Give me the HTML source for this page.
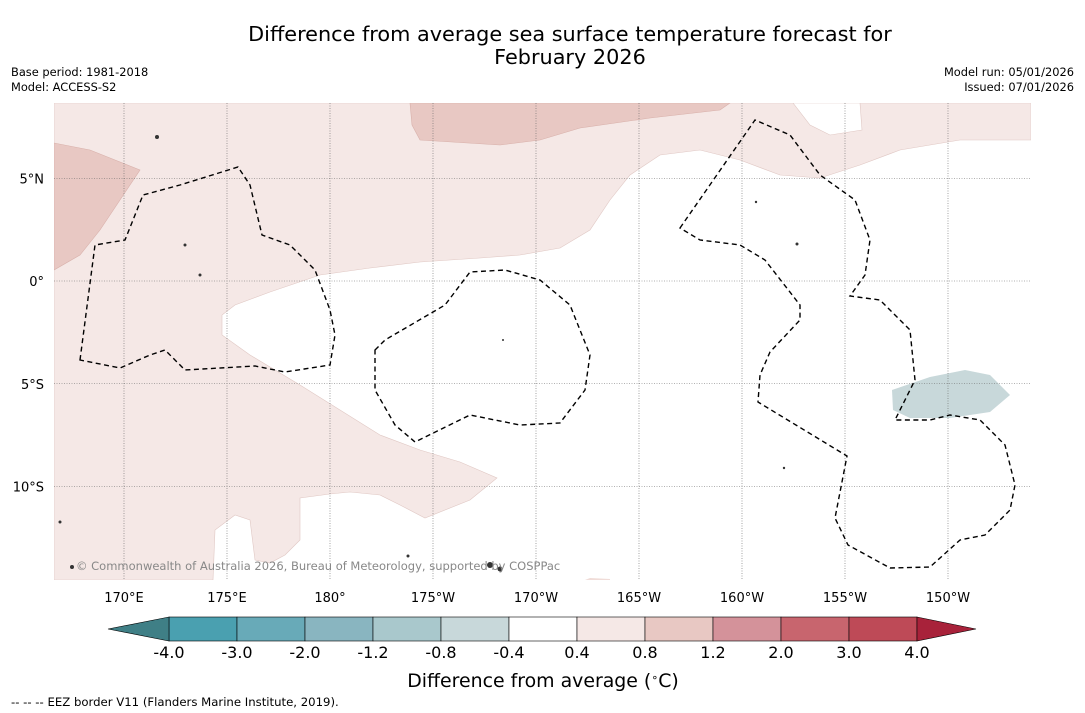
<!DOCTYPE html>
<html><head><meta charset="utf-8"><style>
html,body{margin:0;padding:0;background:#fff;width:1085px;height:713px;overflow:hidden;font-family:"DejaVu Sans","Liberation Sans",sans-serif}
</style></head><body>
<svg id="chart" width="1085" height="713" viewBox="0 0 1085 713" xmlns="http://www.w3.org/2000/svg" font-family="DejaVu Sans, Liberation Sans, sans-serif">
<text x="570" y="41" text-anchor="middle" font-size="20.8" fill="#000">Difference from average sea surface temperature forecast for</text>
<text x="570" y="64" text-anchor="middle" font-size="20.8" fill="#000">February 2026</text>
<text x="11" y="76" font-size="11.4">Base period: 1981-2018</text>
<text x="11" y="91" font-size="11.4">Model: ACCESS-S2</text>
<text x="1074" y="76" font-size="11.4" text-anchor="end">Model run: 05/01/2026</text>
<text x="1074" y="91" font-size="11.4" text-anchor="end">Issued: 07/01/2026</text>
<g id="map">
<defs><clipPath id="mc"><rect x="54" y="103" width="977" height="477"/></clipPath></defs>
<g clip-path="url(#mc)">
<rect x="54" y="103" width="977" height="477" fill="#fff"/>
<path fill="#f5e8e6" stroke="#e0c8c4" stroke-width="0.6" d="M54,103 L1031,103 L1031,140 L960,140 L900,150 L860,165 L820,178 L780,175 L740,160 L700,150 L660,155 L630,175 L610,200 L590,230 L560,248 L520,255 L480,258 L420,262 L370,268 L320,275 L270,292 L235,305 L222,315 L222,335 L250,355 L300,385 L340,410 L380,435 L420,450 L460,462 L497,478 L470,500 L425,518 L400,505 L380,495 L350,492 L330,494 L300,498 L300,540 L285,555 L270,563 L255,560 L250,520 L235,515 L215,530 L213,580 L54,580 Z"/>
<path fill="#fff" stroke="#e0c8c4" stroke-width="0.6" d="M793,103 L810,125 L830,135 L862,130 L860,103 Z"/>
<path fill="#e8c8c3" stroke="#d8b0aa" stroke-width="0.6" d="M410,103 L730,103 L720,110 L650,118 L580,128 L540,140 L500,145 L420,140 L412,125 Z"/>
<path fill="#e8c8c3" stroke="#d8b0aa" stroke-width="0.6" d="M54,143 L90,150 L140,170 L120,200 L100,230 L80,255 L54,270 Z"/>
<path fill="#f0dcd8" d="M585,580 L590,578 L610,579 L610,580 Z"/>
<path fill="#c8d8da" d="M892,390 L930,377 L965,370 L990,375 L1010,395 L990,412 L950,418 L910,418 L893,410 Z"/>
<g id="grid" stroke="#666" stroke-width="0.6" stroke-dasharray="1,1.5"></g>
<g fill="none" stroke="#000" stroke-width="1.4" stroke-dasharray="5,3.5">
<path d="M80,360 L95,245 L125,240 L143,195 L180,185 L238,167 L250,185 L262,235 L290,245 L315,270 L330,310 L335,335 L330,365 L285,372 L255,366 L185,370 L165,350 L150,355 L120,368 Z"/>
<path d="M375,350 L385,340 L445,305 L470,272 L505,270 L540,280 L570,305 L590,355 L585,390 L560,423 L520,425 L470,415 L415,442 L395,425 L375,390 Z"/>
<path d="M680,228 L755,120 L790,135 L820,175 L855,200 L870,240 L865,275 L850,296 L880,300 L910,330 L915,380 L895,420 L930,420 L950,415 L980,420 L1005,445 L1015,485 L1010,510 L985,535 L960,540 L930,567 L890,568 L848,545 L835,518 L847,456 L758,402 L760,375 L770,352 L800,320 L800,305 L765,260 L740,245 L700,240 Z"/>
</g>
<g fill="#333">
<circle cx="157" cy="137" r="2"/><circle cx="185" cy="245" r="1.5"/><circle cx="200" cy="275" r="1.5"/><circle cx="490" cy="565" r="3"/><circle cx="500" cy="569" r="2.5"/><circle cx="60" cy="522" r="1.5"/><circle cx="72" cy="567" r="2"/><circle cx="797" cy="244" r="1.5"/><circle cx="756" cy="202" r="1.2"/><circle cx="503" cy="340" r="1"/><circle cx="784" cy="468" r="1.2"/><circle cx="408" cy="556" r="1.5"/>
</g>
</g>
<text x="76" y="570" font-size="11.5" fill="#888">© Commonwealth of Australia 2026, Bureau of Meteorology, supported by COSPPac</text>
<g id="axlabels" font-size="13" fill="#000"></g>
</g>
<g id="colorbar"></g>
<text x="543" y="687" text-anchor="middle" font-size="18.9">Difference from average (<tspan baseline-shift="super" font-size="11">∘</tspan>C)</text>
<text x="11" y="706" font-size="11.7">--  --  -- EEZ border V11 (Flanders Marine Institute, 2019).</text>
</svg>
<script>
const NS="http://www.w3.org/2000/svg";
const lonTicks=[170,175,180,185,190,195,200,205,210];
const lonLabels=["170°E","175°E","180°","175°W","170°W","165°W","160°W","155°W","150°W"];
const latTicks=[5,0,-5,-10];
const latLabels=["5°N","0°","5°S","10°S"];
const bounds=[-4.0,-3.0,-2.0,-1.2,-0.8,-0.4,0.4,0.8,1.2,2.0,3.0,4.0];
const boundLabels=["-4.0","-3.0","-2.0","-1.2","-0.8","-0.4","0.4","0.8","1.2","2.0","3.0","4.0"];
const binColors=["#4aa0b0","#68aab8","#89b5c0","#a9c8cc","#c8d8da","#ffffff","#f5e8e6","#e8c8c3","#d4929a","#c8656e","#be4a57"];
const lowColor="#3f7f86", highColor="#a8223a";
const xLon=l=>124+(l-170)*20.6;
const yLat=l=>281-l*20.55;
const grid=document.getElementById('grid'), ax=document.getElementById('axlabels');
lonTicks.forEach((l,i)=>{
 const ln=document.createElementNS(NS,'line');
 ln.setAttribute('x1',xLon(l));ln.setAttribute('x2',xLon(l));ln.setAttribute('y1',103);ln.setAttribute('y2',580);
 
 
 grid.appendChild(ln);
 const t=document.createElementNS(NS,'text');
 t.setAttribute('x',xLon(l));t.setAttribute('y',602);t.setAttribute('text-anchor','middle');t.textContent=lonLabels[i];
 
 
 ax.appendChild(t);
});
latTicks.forEach((l,i)=>{
 const ln=document.createElementNS(NS,'line');
 ln.setAttribute('x1',54);ln.setAttribute('x2',1031);ln.setAttribute('y1',yLat(l));ln.setAttribute('y2',yLat(l));
 
 
 grid.appendChild(ln);
 const t=document.createElementNS(NS,'text');
 t.setAttribute('x',44);t.setAttribute('y',yLat(l)+5);t.setAttribute('text-anchor','end');t.textContent=latLabels[i];
 
 
 ax.appendChild(t);
});
const cb=document.getElementById('colorbar');
const x0=169,bw=68,cy=617,ch=24;
const cx=i=>x0+i*bw;
binColors.forEach((c,i)=>{
 const r=document.createElementNS(NS,'rect');
 r.setAttribute('x',cx(i));r.setAttribute('y',cy);r.setAttribute('width',bw);r.setAttribute('height',ch);r.setAttribute('fill',c);r.setAttribute('stroke','#000');r.setAttribute('stroke-width','0.6');
 
 
 cb.appendChild(r);
});
const n=bounds.length-1;
const lo=document.createElementNS(NS,'polygon');
lo.setAttribute('points',`${cx(0)},${cy} ${cx(0)-61},${cy+ch/2} ${cx(0)},${cy+ch}`);lo.setAttribute('fill',lowColor);lo.setAttribute('stroke','#000');lo.setAttribute('stroke-width','0.6');


cb.appendChild(lo);
const hi=document.createElementNS(NS,'polygon');
hi.setAttribute('points',`${cx(n)},${cy} ${cx(n)+59},${cy+ch/2} ${cx(n)},${cy+ch}`);hi.setAttribute('fill',highColor);hi.setAttribute('stroke','#000');hi.setAttribute('stroke-width','0.6');


cb.appendChild(hi);
bounds.forEach((b,i)=>{
 const t=document.createElementNS(NS,'text');
 t.setAttribute('x',cx(i));t.setAttribute('y',658);t.setAttribute('text-anchor','middle');t.setAttribute('font-size','16');t.textContent=boundLabels[i];
 
 
 cb.appendChild(t);
});
</script>
</body></html>
